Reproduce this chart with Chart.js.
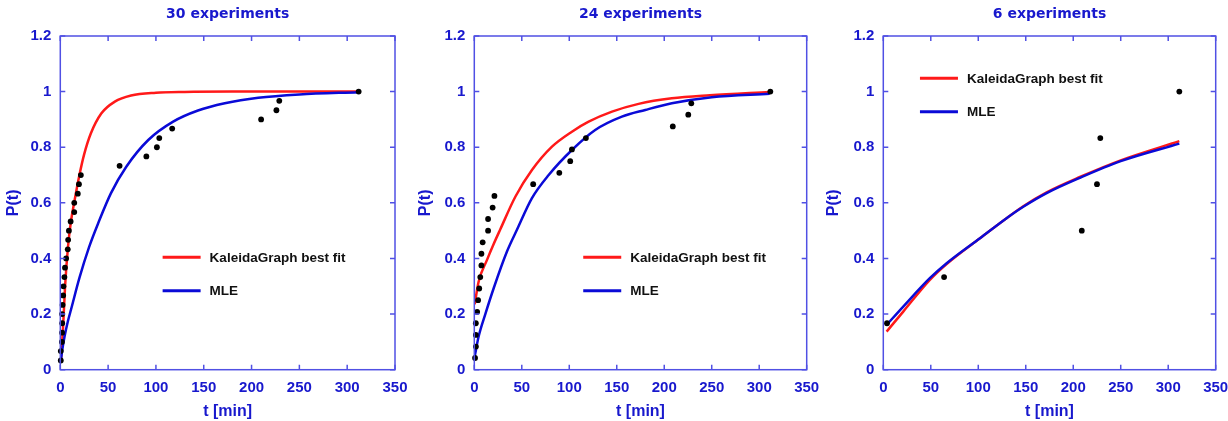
<!DOCTYPE html>
<html>
<head>
<meta charset="UTF-8">
<title>P(t) fits</title>
<script src="https://cdn.jsdelivr.net/npm/chart.js@4.4.0/dist/chart.umd.min.js"></script>
<style>
  body { margin: 0; background: #fff; }
  .panel { position: absolute; top: 0; }
</style>
</head>
<body>
<div class="panel" style="left:0px"><canvas id="c1" width="410" height="421"></canvas></div>
<div class="panel" style="left:410px"><canvas id="c2" width="410" height="421"></canvas></div>
<div class="panel" style="left:820px"><canvas id="c3" width="408" height="421"></canvas></div>

<script>
// ---- data ----
const titles = ['30 experiments', '24 experiments', '6 experiments'];
const legendLabels = ['KaleidaGraph best fit', 'MLE'];
const yTickLabels = ['0', '0.2', '0.4', '0.6', '0.8', '1', '1.2'];

// 30 experiments
const t30 = [0.5, 0.5, 1.7, 1.9, 2, 1.9, 2.4, 3, 3.3, 4.3, 4.9, 6.1, 7.8, 8.2, 9, 10.8, 14.6, 14.6, 18.3, 19.5, 21.5,
             62, 90, 101, 103.5, 117, 210, 226, 229, 312];
const p30 = [0.033, 0.067, 0.1, 0.133, 0.167, 0.2, 0.233, 0.267, 0.3, 0.333, 0.367, 0.4, 0.433, 0.467, 0.5,
             0.533, 0.567, 0.6, 0.633, 0.667, 0.7, 0.733, 0.767, 0.8, 0.833, 0.867, 0.9, 0.933, 0.967, 1.0];
const kgT30 = [0.5, 1, 3, 5, 8, 11, 15, 20, 25, 32, 43, 57, 74, 100, 130, 180, 250, 312];
const kgP30 = [0.03, 0.05, 0.16, 0.3, 0.44, 0.53, 0.61, 0.7, 0.775, 0.85, 0.922, 0.964, 0.986, 0.996, 0.999, 1.0, 1.0, 1.0];
const mleT30 = [0.5, 2, 4.5, 8, 11.5, 20, 30, 40, 53, 69, 92, 118, 144, 172, 207, 250, 312];
const mleP30 = [0.03, 0.07, 0.12, 0.175, 0.22, 0.33, 0.44, 0.53, 0.635, 0.73, 0.826, 0.892, 0.932, 0.958, 0.978, 0.99, 0.998];

// 24 experiments
const t24 = [0.8, 1.7, 1.6, 1.6, 3, 4, 5.2, 6.3, 7.5, 7.5, 8.8, 14.5, 14.5, 19.3, 21.2,
             62, 89.5, 101, 102.8, 117.5, 209, 225.3, 228.5, 311.7];
const p24 = [0.042, 0.083, 0.125, 0.167, 0.208, 0.25, 0.292, 0.333, 0.375, 0.417, 0.458, 0.5, 0.542, 0.583, 0.625,
             0.667, 0.708, 0.75, 0.792, 0.833, 0.875, 0.917, 0.958, 1.0];
const kgT24 = [0.4, 4.6, 13.4, 20.4, 27.4, 43.2, 60.7, 81.8, 102.8, 120.4, 145, 173, 208, 248, 311];
const kgP24 = [0.235, 0.317, 0.395, 0.452, 0.505, 0.622, 0.718, 0.802, 0.856, 0.892, 0.928, 0.956, 0.976, 0.987, 0.999];
const mleT24 = [0.4, 4.6, 11.6, 20.4, 34.4, 44.9, 60.7, 78.3, 102.8, 127.3, 155.4, 180, 208, 250, 311];
const mleP24 = [0.047, 0.12, 0.2, 0.293, 0.425, 0.503, 0.617, 0.7, 0.79, 0.862, 0.91, 0.934, 0.958, 0.98, 0.992];

// 6 experiments
const t6 = [3.9, 64, 209, 225, 228.5, 311.7];
const p6 = [0.167, 0.333, 0.5, 0.667, 0.833, 1.0];
const kgT6 = [3.5, 21, 49, 66.7, 101.8, 129.8, 147.4, 172, 207, 250, 311.7];
const kgP6 = [0.137, 0.209, 0.323, 0.38, 0.473, 0.545, 0.588, 0.638, 0.693, 0.753, 0.822];
const mleT6 = [3.5, 21, 49, 66.7, 101.8, 129.8, 147.4, 172, 207, 250, 311.7];
const mleP6 = [0.161, 0.227, 0.329, 0.383, 0.473, 0.545, 0.586, 0.635, 0.69, 0.75, 0.813];

// ---- styling ----
const labelBlue = 'rgb(24,24,205)';
const frameBlue = 'rgb(80,80,228)';
const red = 'rgb(255,25,25)';
const blue = 'rgb(10,10,215)';
const tickFont = { family: 'Liberation Sans', size: 15, weight: 'bold' };
const axisFont = { family: 'Liberation Sans', size: 16, weight: 'bold' };

const pairs = (xs, ys) => xs.map((v, i) => ({ x: v, y: ys[i] }));

// box with inward tick marks on all four sides
const frameTicks = {
  id: 'frameTicks',
  afterDraw(chart) {
    const { ctx, chartArea: a, scales: { x, y } } = chart;
    ctx.save();
    ctx.strokeStyle = frameBlue;
    ctx.lineWidth = 1.5;
    ctx.strokeRect(a.left, a.top, a.right - a.left, a.bottom - a.top);
    ctx.beginPath();
    x.ticks.forEach(t => {
      const px = x.getPixelForValue(t.value);
      ctx.moveTo(px, a.bottom); ctx.lineTo(px, a.bottom - 5);
      ctx.moveTo(px, a.top); ctx.lineTo(px, a.top + 5);
    });
    y.ticks.forEach(t => {
      const py = y.getPixelForValue(t.value);
      ctx.moveTo(a.left, py); ctx.lineTo(a.left + 5, py);
      ctx.moveTo(a.right, py); ctx.lineTo(a.right - 5, py);
    });
    ctx.stroke();
    ctx.restore();
  }
};

// legend drawn inside the plot, anchored at a data position
const insideLegend = {
  id: 'insideLegend',
  afterDraw(chart, args, opts) {
    const { ctx, scales: { x, y } } = chart;
    const x0 = x.getPixelForValue(opts.t);
    const y0 = y.getPixelForValue(opts.p);
    ctx.save();
    ctx.font = 'bold 13.5px "Liberation Sans"';
    ctx.textBaseline = 'middle';
    ctx.fillStyle = '#111';
    legendLabels.forEach((label, i) => {
      const ds = chart.data.datasets.find(d => d.label === label);
      const py = y0 + i * 33.4;
      ctx.strokeStyle = ds.borderColor;
      ctx.lineWidth = 3;
      ctx.beginPath();
      ctx.moveTo(x0, py); ctx.lineTo(x0 + 38, py);
      ctx.stroke();
      ctx.fillText(label, x0 + 47, py + 1);
    });
    ctx.restore();
  }
};

function makeChart(id, title, pts, kg, mle, legendAt, yWidth, padRight, yTitlePad) {
  new Chart(document.getElementById(id), {
    type: 'scatter',
    data: {
      datasets: [
        { label: 'data', data: pts, pointRadius: 2.9, pointBackgroundColor: '#000',
          pointBorderWidth: 0, showLine: false, clip: 6 },
        { label: 'MLE', data: mle, showLine: true, borderColor: blue, borderWidth: 2.5,
          pointRadius: 0, cubicInterpolationMode: 'monotone' },
        { label: 'KaleidaGraph best fit', data: kg, showLine: true, borderColor: red, borderWidth: 2.5,
          pointRadius: 0, cubicInterpolationMode: 'monotone' }
      ]
    },
    options: {
      responsive: false,
      animation: false,
      layout: { padding: { left: 0, right: padRight, top: 0, bottom: 0 } },
      plugins: {
        legend: { display: false },
        tooltip: { enabled: false },
        insideLegend: legendAt
      },
      scales: {
        x: {
          type: 'linear', min: 0, max: 350,
          ticks: { stepSize: 50, color: labelBlue, font: tickFont, padding: 9 },
          grid: { display: false, drawTicks: false },
          border: { display: false },
          title: { display: true, text: 't [min]', color: labelBlue, font: axisFont, padding: 0 },
          afterFit(s) { s.height = 51.3; s.paddingLeft = 0; s.paddingRight = 0; }
        },
        top: {
          axis: 'x', type: 'linear', position: 'top', min: 0, max: 350,
          ticks: { display: false },
          grid: { display: false, drawTicks: false },
          border: { display: false },
          title: { display: true, text: title, color: labelBlue, padding: { top: 6, bottom: 0 },
                   font: { family: 'DejaVu Sans', size: 14, weight: 'bold' } },
          afterFit(s) { s.height = 36; s.paddingLeft = 0; s.paddingRight = 0; }
        },
        y: {
          type: 'linear', min: 0, max: 1.2,
          ticks: { stepSize: 0.2, color: labelBlue, font: tickFont, padding: 9,
                   callback: (v, i) => yTickLabels[i] },
          grid: { display: false, drawTicks: false },
          border: { display: false },
          title: { display: true, text: 'P(t)', color: labelBlue, font: axisFont, padding: { top: yTitlePad, bottom: 0 } },
          afterFit(s) { s.width = yWidth; s.paddingTop = 0; s.paddingBottom = 0; }
        }
      }
    },
    plugins: [frameTicks, insideLegend]
  });
}

makeChart('c1', titles[0], pairs(t30, p30), pairs(kgT30, kgP30), pairs(mleT30, mleP30),
          { t: 107, p: 0.404 }, 60.3, 15, 3.7);
makeChart('c2', titles[1], pairs(t24, p24), pairs(kgT24, kgP24), pairs(mleT24, mleP24),
          { t: 114.7, p: 0.404 }, 64.3, 13.3, 6.2);
makeChart('c3', titles[2], pairs(t6, p6), pairs(kgT6, kgP6), pairs(mleT6, mleP6),
          { t: 38.6, p: 1.048 }, 63.3, 12.3, 4.1);
</script>
</body>
</html>
